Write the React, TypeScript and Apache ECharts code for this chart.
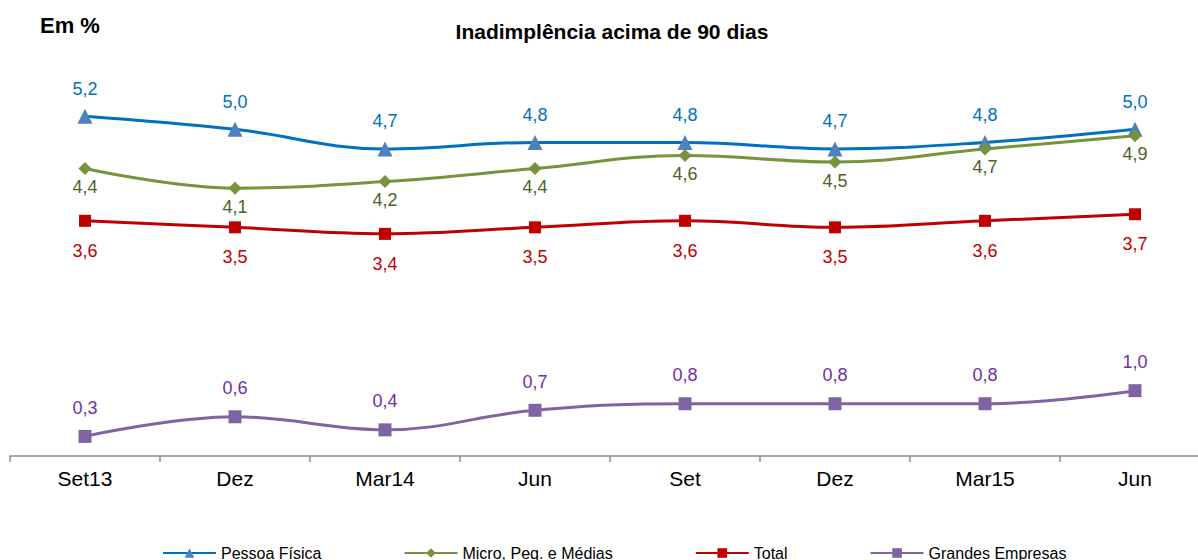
import React, { useEffect, useRef } from "react";
import * as echarts from "echarts";

const categories = ["Set13", "Dez", "Mar14", "Jun", "Set", "Dez", "Mar15", "Jun"];
const pessoaFisica = [5.2, 5.0, 4.7, 4.8, 4.8, 4.7, 4.8, 5.0];
const microPeqMedias = [4.4, 4.1, 4.2, 4.4, 4.6, 4.5, 4.7, 4.9];
const total = [3.6, 3.5, 3.4, 3.5, 3.6, 3.5, 3.6, 3.7];
const grandesEmpresas = [0.3, 0.6, 0.4, 0.7, 0.8, 0.8, 0.8, 1.0];

const FONT = "'Liberation Sans', Arial, sans-serif";

const fmt = (p: any) => Number(p.value).toFixed(1).replace(".", ",");

export default function App() {
  const ref = useRef<HTMLDivElement>(null);
  useEffect(() => {
    if (!ref.current) return;
    const chart = echarts.init(ref.current, null, { renderer: "svg" });
    const mk = (
      name: string,
      data: number[],
      lineColor: string,
      markColor: string,
      labelColor: string,
      symbol: string,
      symbolSize: number,
      pos: string,
      dist: number
    ) => ({
      name,
      type: "line",
      data,
      smooth: 0.4,
      symbol,
      symbolSize,
      lineStyle: { color: lineColor, width: 3 },
      itemStyle: { color: markColor },
      label: {
        show: true,
        position: pos,
        distance: dist,
        formatter: fmt,
        color: labelColor,
        fontSize: 18,
        fontFamily: FONT,
      },
    });
    chart.setOption({
      animation: false,
      title: [
        {
          text: "Inadimplência acima de 90 dias",
          left: 607,
          textAlign: "center",
          top: 16,
          textStyle: { fontSize: 21, fontWeight: "bold", color: "#000", fontFamily: FONT },
        },
        {
          text: "Em %",
          left: 35,
          top: 9,
          textStyle: { fontSize: 22, fontWeight: "bold", color: "#000", fontFamily: FONT },
        },
      ],
      legend: {
        left: 157,
        top: 540,
        itemWidth: 53,
        itemHeight: 12,
        itemGap: 82,
        textStyle: { fontSize: 16, color: "#000", fontFamily: FONT, padding: [0, 0, 0, 0] },
        data: ["Pessoa Física", "Micro, Peq. e Médias", "Total", "Grandes Empresas"],
      },
      grid: { left: 10, right: 0, top: 64, bottom: 104 },
      xAxis: {
        type: "category",
        data: categories,
        boundaryGap: true,
        axisLine: { lineStyle: { color: "#8c8c8c", width: 1.5 } },
        axisTick: { show: true, length: 6, lineStyle: { color: "#8c8c8c", width: 1.5 } },
        axisLabel: { fontSize: 21, color: "#000", fontFamily: FONT, margin: 12 },
      },
      yAxis: {
        type: "value",
        min: 0,
        max: 6,
        show: false,
        splitLine: { show: false },
      },
      series: [
        mk("Pessoa Física", pessoaFisica, "#0070C0", "#4F81BD", "#0070C0", "triangle", 15, "top", 11),
        mk("Micro, Peq. e Médias", microPeqMedias, "#77933C", "#77933C", "#4F6228", "diamond", 13, "bottom", 3),
        mk("Total", total, "#C00000", "#C00000", "#C00000", "rect", 12, "bottom", 15),
        mk("Grandes Empresas", grandesEmpresas, "#8064A2", "#8064A2", "#7030A0", "rect", 13, "top", 13),
      ],
    });
    return () => chart.dispose();
  }, []);
  return (
    <div
      style={{
        position: "absolute",
        left: 0,
        top: 0,
        width: 1198,
        height: 560,
        overflow: "hidden",
        background: "#fff",
      }}
    >
      <div ref={ref} style={{ width: 1210, height: 560 }} />
    </div>
  );
}
